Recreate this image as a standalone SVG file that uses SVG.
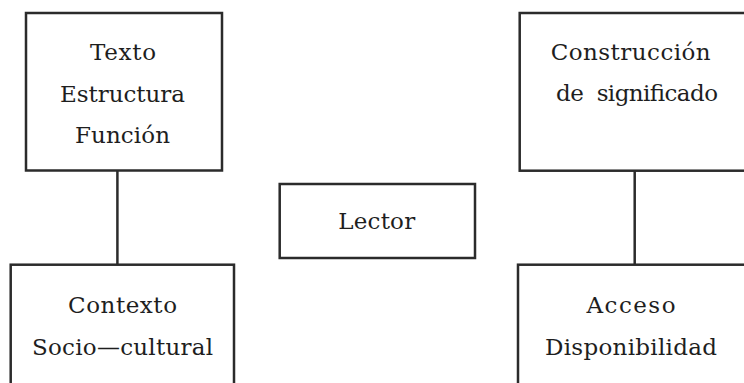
<svg xmlns="http://www.w3.org/2000/svg" width="744" height="383" viewBox="0 0 744 383">
  <style>
    .box { fill: #ffffff; stroke: #2b2b2b; stroke-width: 2.5; }
    .conn { stroke: #2b2b2b; stroke-width: 2.5; fill: none; }
    .lbl { font-family: "DejaVu Serif", "Liberation Serif", serif; font-size: 23px; fill: #1e1e1e; text-anchor: middle; }
  </style>
  <rect width="744" height="383" fill="#ffffff"/>
  <g id="connectors">
    <line class="conn" x1="117.4" y1="171" x2="117.4" y2="264"/>
    <line class="conn" x1="634.7" y1="171" x2="634.7" y2="264"/>
  </g>
  <g id="node-texto">
    <rect class="box" x="26" y="13" width="196" height="157.5"/>
    <text class="lbl" x="123" y="60" textLength="66" lengthAdjust="spacing">Texto</text>
    <text class="lbl" x="122.5" y="101.5" textLength="125" lengthAdjust="spacing">Estructura</text>
    <text class="lbl" x="122.5" y="143" textLength="95" lengthAdjust="spacing">Función</text>
  </g>
  <g id="node-contexto">
    <rect class="box" x="10.7" y="264.7" width="223.3" height="200"/>
    <text class="lbl" x="122.5" y="313" textLength="109" lengthAdjust="spacing">Contexto</text>
    <text class="lbl" x="122.5" y="355" textLength="181" lengthAdjust="spacing">Socio—cultural</text>
  </g>
  <g id="node-lector">
    <rect class="box" x="279.7" y="184" width="195.3" height="74"/>
    <text class="lbl" x="376.7" y="229" textLength="77" lengthAdjust="spacing">Lector</text>
  </g>
  <g id="node-construccion">
    <rect class="box" x="519.7" y="13" width="260" height="157.7"/>
    <text class="lbl" x="630.7" y="60" textLength="160" lengthAdjust="spacing">Construcción</text>
    <text class="lbl" x="637" y="100.7" textLength="162" lengthAdjust="spacing" xml:space="preserve">de  significado</text>
  </g>
  <g id="node-acceso">
    <rect class="box" x="518" y="264.7" width="260" height="200"/>
    <text class="lbl" x="631" y="313.3" textLength="89" lengthAdjust="spacing">Acceso</text>
    <text class="lbl" x="631" y="355" textLength="172" lengthAdjust="spacing">Disponibilidad</text>
  </g>
</svg>
